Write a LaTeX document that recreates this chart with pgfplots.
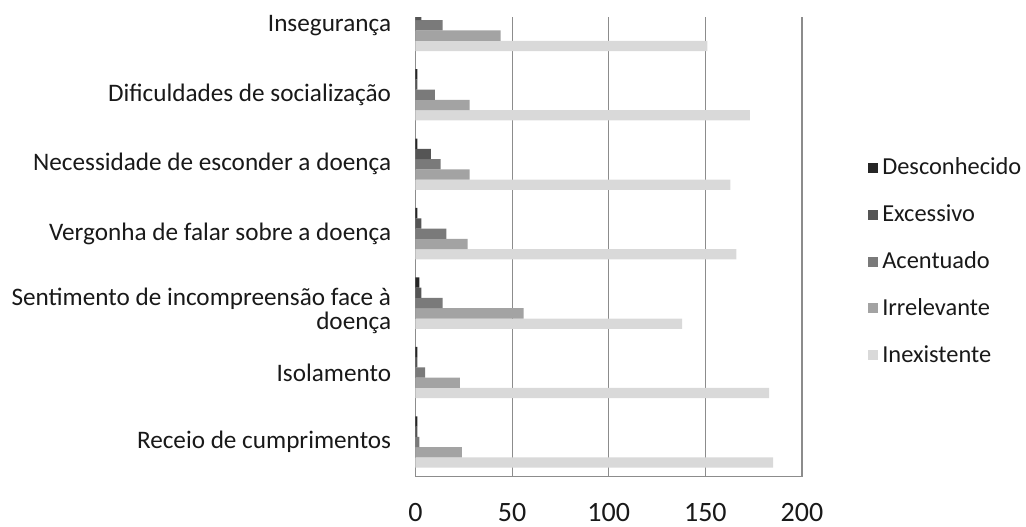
\documentclass[border=0pt]{standalone}
\usepackage{pgfplots}
\pgfplotsset{compat=1.18}
\usepackage{fontspec}
\setmainfont{Carlito}
\definecolor{cDes}{HTML}{262626}
\definecolor{cExc}{HTML}{555555}
\definecolor{cAce}{HTML}{7A7A7A}
\definecolor{cIrr}{HTML}{A3A3A3}
\definecolor{cIne}{HTML}{D9D9D9}
\definecolor{cGrid}{HTML}{8C8C8C}
\begin{document}
\begin{tikzpicture}
\useasboundingbox (-207.75pt,-24.65pt) rectangle (305.25pt,238.35pt);
\begin{axis}[
  at={(0,0)}, anchor=south west,
  scale only axis, width=193.25pt, height=229.85pt,
  xbar=0pt, bar width=0.148,
  xmin=0, xmax=200, ymin=-0.5, ymax=6.12,
  xtick={0,50,100,150,200},
  ytick={0,...,6},
  yticklabels={Receio de cumprimentos, Isolamento, {\raisebox{-4.5pt}[\height][\depth]{\begin{tabular}{@{}r@{}}Sentimento de incompreensão face à\\[-1.3pt]doença\end{tabular}}}, Vergonha de falar sobre a doença, Necessidade de esconder a doença, Dificuldades de socialização, Insegurança},
  axis x line*=bottom, axis y line*=left,
  axis line style={cGrid, line width=0.6pt},
  xmajorgrids, major grid style={cGrid, line width=0.6pt},
  major tick length=0pt,
  /pgf/number format/assume math mode=true,
  xticklabel style={font=\fontsize{14}{16}\selectfont, text=black!90, yshift=-10pt},
  yticklabel style={font=\fontsize{12.6}{13.5}\selectfont, text=black!90, align=right, inner sep=0pt, xshift=-12pt},
  reverse legend,
  legend cell align=left,
  legend style={at={(1.155,0.712)}, anchor=north west, draw=none, fill=none,
    font=\fontsize{12.2}{13.5}\selectfont, text=black!90, row sep=9.5pt,
    /tikz/every odd column/.append style={column sep=0pt}},
  legend image code/.code={\fill[#1] (0pt,-2.5pt) rectangle (5pt,2.5pt);},
]
\addplot[fill=cIne, draw=none] coordinates {(185,0) (183,1) (138,2) (166,3) (163,4) (173,5) (151,6)};
\addplot[fill=cIrr, draw=none] coordinates {(24,0) (23,1) (56,2) (27,3) (28,4) (28,5) (44,6)};
\addplot[fill=cAce, draw=none] coordinates {(2,0) (5,1) (14,2) (16,3) (13,4) (10,5) (14,6)};
\addplot[fill=cExc, draw=none] coordinates {(1,0) (1,1) (3,2) (3,3) (8,4) (1,5) (3,6)};
\addplot[fill=cDes, draw=none] coordinates {(1,0) (1,1) (2,2) (1,3) (1,4) (1,5) (2,6)};
\legend{Inexistente, Irrelevante, Acentuado, Excessivo, Desconhecido}
\end{axis}
\end{tikzpicture}
\end{document}
